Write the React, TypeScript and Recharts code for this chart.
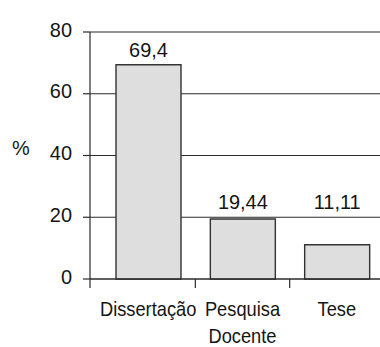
import { BarChart, Bar, XAxis, YAxis, CartesianGrid, LabelList } from "recharts";

// share of production by type (%)
const categories = ["Dissertação", "Pesquisa\nDocente", "Tese"];
const percents = [69.4, 19.44, 11.11];
const yTicks = [0, 20, 40, 60, 80];

const data = categories.map((name, i) => ({ name, value: percents[i] }));

const W = 384;
const H = 347;
const AXIS_W = 90;
const PAD_LEFT = 11;
const FONT = "'Liberation Sans', Arial, sans-serif";
const FS = 21;
const INK = "#151515";
const LINE = "#2b2b2b";
const bandHalf = (W - AXIS_W - PAD_LEFT) / categories.length / 2;

const fmt = (v: number) => String(v).replace(".", ",");

// condensed text: squeeze horizontally around the anchor point
function Txt({ x, y, anchor, sx, children }: any) {
  return (
    <g transform={`translate(${x},${y}) scale(${sx},1)`}>
      <text x={0} y={0} textAnchor={anchor} fontFamily={FONT} fontSize={FS} fill={INK}>
        {children}
      </text>
    </g>
  );
}

function YTick(props: any) {
  const { x, y, payload } = props;
  return (
    <Txt x={x} y={y + 4.5} anchor="end" sx={0.95}>
      {payload.value}
    </Txt>
  );
}

function XTick(props: any) {
  const { x, y, payload, index } = props;
  const lines = String(payload.value).split("\n");
  return (
    <g>
      {index < categories.length - 1 && (
        <line x1={x + bandHalf} x2={x + bandHalf} y1={y - 9} y2={y} stroke={LINE} strokeWidth={1.2} />
      )}
      {index === 0 && (
        <line
          x1={x - bandHalf - PAD_LEFT}
          x2={x - bandHalf - PAD_LEFT}
          y1={y - 9}
          y2={y}
          stroke={LINE}
          strokeWidth={1.2}
        />
      )}
      {lines.map((t, i) => (
        <Txt key={i} x={x} y={y + 28 + i * 27} anchor="middle" sx={0.87}>
          {t}
        </Txt>
      ))}
    </g>
  );
}

// value above each bar; short bars keep their label clear of the 20 line
function ValueLabel(props: any) {
  const { x, y, width, height, value } = props;
  const base = y + height;
  const line20 = base - (20 * height) / value;
  const cy = Math.min(y, line20) - 16;
  return (
    <Txt x={x + width / 2} y={cy + 8} anchor="middle" sx={0.95}>
      {fmt(value)}
    </Txt>
  );
}

function PercentLabel(props: any) {
  const { viewBox } = props;
  const vb = viewBox || { x: 0, y: 32, height: 247 };
  return (
    <Txt x={vb.x + 12} y={vb.y + vb.height / 2 - 0.5} anchor="start" sx={0.95}>
      %
    </Txt>
  );
}

export default function App() {
  return (
    <div style={{ position: "fixed", left: 0, top: 0, width: 380, height: H, overflow: "hidden", background: "#fff" }}>
      <BarChart width={W} height={H} data={data} margin={{ top: 32, right: 0, bottom: 0, left: 0 }}>
        <CartesianGrid horizontal vertical={false} stroke={LINE} strokeWidth={1.2} strokeOpacity={1} />
        <XAxis
          dataKey="name"
          height={H - 279}
          padding={{ left: PAD_LEFT, right: 0 }}
          axisLine={{ stroke: LINE, strokeWidth: 1.2 }}
          tickLine={false}
          tickSize={9}
          tickMargin={0}
          interval={0}
          tick={<XTick />}
        />
        <YAxis
          width={AXIS_W}
          domain={[0, 80]}
          ticks={yTicks}
          axisLine={{ stroke: LINE, strokeWidth: 1.2 }}
          tickLine={{ stroke: LINE, strokeWidth: 1.2 }}
          tickSize={7}
          tickMargin={11}
          tick={<YTick />}
          label={<PercentLabel />}
        />
        <Bar dataKey="value" barSize={65} fill="#dedede" stroke="#333" strokeWidth={1.4} isAnimationActive={false}>
          <LabelList dataKey="value" content={<ValueLabel />} />
        </Bar>
      </BarChart>
    </div>
  );
}
